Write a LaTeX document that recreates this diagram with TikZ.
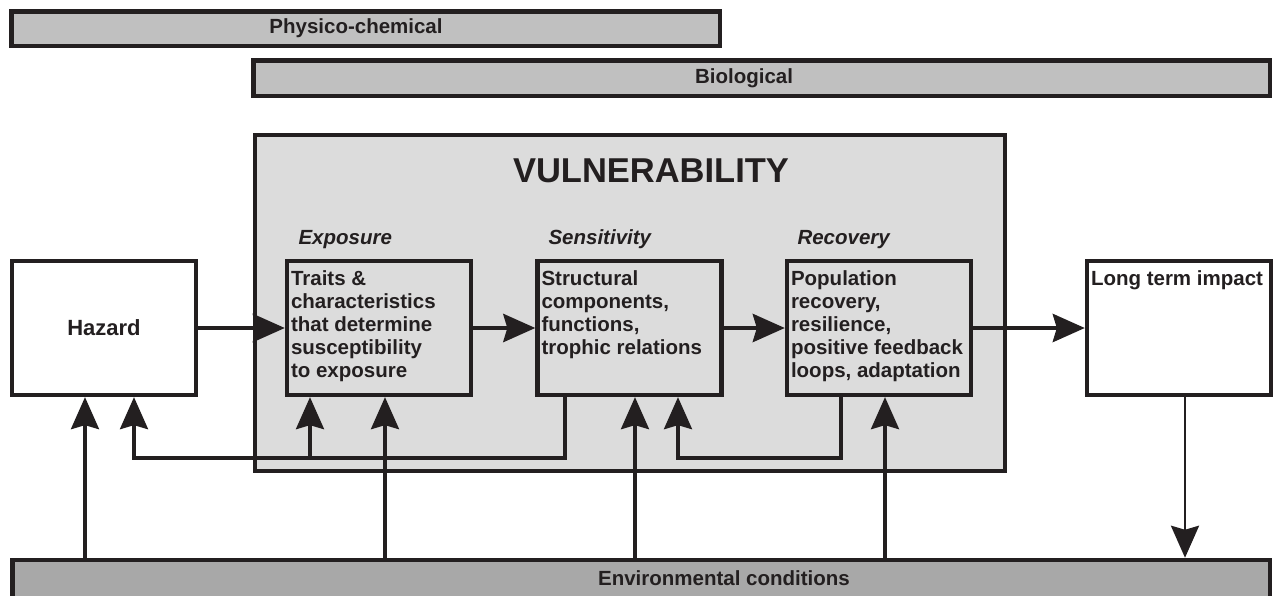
\documentclass[tikz,border=0pt]{standalone}
\usepackage{fontspec}
\setmainfont{Liberation Sans}
\usepackage{tikz}
\usetikzlibrary{arrows.meta,positioning}

\definecolor{ink}{HTML}{231F20}
\definecolor{vulnfill}{HTML}{DCDCDC}
\definecolor{barfill}{HTML}{C0C0C0}
\definecolor{envfill}{HTML}{A8A8A8}

\newcommand{\unittext}[1]{\parbox[c][114pt][t]{176pt}{\raggedright #1}}

\begin{document}
\begin{tikzpicture}[
x=1pt, y=-1pt,
font=\fontsize{20.5}{23}\selectfont\bfseries,
text=ink,
bar/.style={draw=ink, line width=4.5pt, inner sep=0pt},
unit/.style={draw=ink, line width=4.3pt, fill=vulnfill, minimum width=184pt, minimum height=134pt, inner xsep=4pt, inner ysep=10pt},
stage/.style={anchor=base west, font=\fontsize{20.5}{23}\selectfont\bfseries\itshape},
tip/.style={-{Stealth[length=32pt,width=28pt,inset=4pt]}},
flow/.style={tip, draw=ink, line width=4.5pt},
rise/.style={tip, draw=ink, line width=3.4pt},
scale=1]
    \useasboundingbox (0,0) rectangle (1279,595);

    % Draw top bars
    \node[bar, fill=barfill, minimum width=708.5pt, minimum height=34.5pt] (phys) at (365.5,28.5) {};
    \node (physlabel) at (356,28.5) {Physico-chemical};
    \node[bar, fill=barfill, minimum width=1016.5pt, minimum height=35.5pt] (bio) at (761.5,78) {};
    \node (biolabel) at (744,78) {Biological};

    % Draw vulnerability frame
    \node[draw=ink, line width=4.3pt, fill=vulnfill, minimum width=749.7pt, minimum height=335.7pt, inner sep=0pt] (vuln) at (630,303) {};
    \node (vulnlabel) at (651,171) {\fontsize{34.5}{40}\selectfont VULNERABILITY};
    \node[stage] (explabel) at (295,244) {Exposure};
    \node[stage] (senslabel) at (545,244) {Sensitivity};
    \node[stage] (reclabel) at (794,244) {Recovery};

    % Draw boxes
    \node[unit, fill=white, font=\fontsize{22}{26}\selectfont\bfseries] (haz) at (104,328) {Hazard};
    \node[unit] (expo) at (379,328) {\unittext{Traits \&\\characteristics\\that determine\\susceptibility\\to exposure}};
    \node[unit] (sens) at (629.5,328) {\unittext{Structural\\components,\\functions,\\trophic relations}};
    \node[unit] (rec) at (879,328) {\unittext{Population\\recovery,\\resilience,\\positive feedback\\loops, adaptation}};
    \node[unit, fill=white] (lt) at (1179,328) {\unittext{Long term impact}};

    % Draw environment bar
    \node[bar, fill=envfill, minimum width=1257.5pt, minimum height=40pt] (env) at (641,580) {};
    \node (envlabel) at (724,578) {Environmental conditions};

    % Main chain
    \draw[flow] (haz) -- (expo);
    \draw[flow] (expo) -- (sens);
    \draw[flow] (sens) -- (rec);
    \draw[flow] (rec) -- (lt);
    \draw[rise, line width=2.8pt] (1185,0 |- lt.south) -- (1185,0 |- env.north);

    % Environment feeds upwards
    \draw[rise] (85,0 |- env.north) -- (85,0 |- haz.south);
    \draw[rise] (385,0 |- env.north) -- (385,0 |- expo.south);
    \draw[rise] (635,0 |- env.north) -- (635,0 |- sens.south);
    \draw[rise] (885,0 |- env.north) -- (885,0 |- rec.south);

    % Feedback loops
    \coordinate (fbhaz) at (134,458);
    \coordinate (fbsens) at (678,458);
    \draw[rise] (565,0 |- sens.south) |- (fbhaz) -- (fbhaz |- haz.south);
    \draw[rise] (310,0 |- fbhaz) -- (310,0 |- expo.south);
    \draw[rise] (841,0 |- rec.south) |- (fbsens) -- (fbsens |- sens.south);
\end{tikzpicture}
\end{document}
